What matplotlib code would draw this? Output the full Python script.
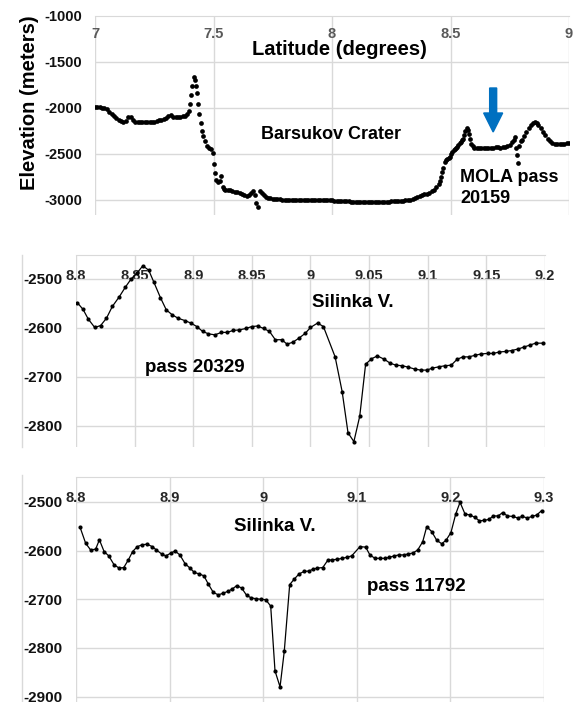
import numpy as np
import matplotlib.pyplot as plt
from matplotlib.patches import FancyArrow
from matplotlib.lines import Line2D
from matplotlib.transforms import IdentityTransform

# --- Daten: MOLA pass 20159 (Barsukov Crater) ---
top_lat = [
    7.00, 7.01, 7.02, 7.03, 7.04, 7.05, 7.06, 7.07, 7.08, 7.09,
    7.10, 7.11, 7.12, 7.13, 7.14, 7.15, 7.16, 7.17, 7.18, 7.19,
    7.20, 7.21, 7.22, 7.23, 7.24, 7.25, 7.26, 7.27, 7.28, 7.29,
    7.30, 7.31, 7.32, 7.33, 7.34, 7.35, 7.36, 7.37, 7.38, 7.39,
    7.396, 7.401, 7.405, 7.411, 7.419, 7.424, 7.427, 7.430, 7.434, 7.440,
    7.446, 7.451, 7.457, 7.464, 7.471, 7.480, 7.491, 7.498, 7.502, 7.507,
    7.512, 7.520, 7.526, 7.533, 7.540, 7.546,
    7.55, 7.56, 7.57, 7.58, 7.59, 7.60, 7.61, 7.62, 7.63, 7.64,
    7.65, 7.66, 7.667, 7.674, 7.681, 7.688, 7.698, 7.706, 7.714, 7.72,
    7.73, 7.74, 7.75, 7.76, 7.77, 7.78,
    7.79, 7.80, 7.81, 7.82, 7.83, 7.84, 7.85, 7.86, 7.87, 7.88,
    7.89, 7.90, 7.91, 7.92, 7.93, 7.94, 7.95, 7.96, 7.97, 7.98,
    7.99, 8.00, 8.01, 8.02, 8.03, 8.04, 8.05, 8.06, 8.07, 8.08,
    8.09, 8.10, 8.11, 8.12, 8.13, 8.14, 8.15, 8.16, 8.17, 8.18,
    8.19, 8.20, 8.21, 8.22, 8.23, 8.24, 8.25, 8.26, 8.27, 8.28,
    8.29, 8.30, 8.31, 8.32, 8.33,
    8.34, 8.35, 8.36, 8.37, 8.38, 8.39, 8.40, 8.41, 8.42, 8.43,
    8.44, 8.45, 8.455, 8.46, 8.465, 8.47, 8.476, 8.481, 8.487, 8.493,
    8.498, 8.503, 8.508, 8.513, 8.518, 8.523, 8.528, 8.533, 8.538, 8.543,
    8.548, 8.553, 8.558, 8.563, 8.568, 8.573, 8.578, 8.583, 8.588, 8.593,
    8.60, 8.61, 8.62, 8.63, 8.64, 8.65, 8.66, 8.67, 8.68, 8.69,
    8.70, 8.71, 8.72, 8.73, 8.74, 8.75, 8.76,
    8.767, 8.773, 8.778, 8.782, 8.786, 8.791, 8.796, 8.80, 8.81, 8.82,
    8.83, 8.84, 8.85, 8.857, 8.864, 8.87, 8.88, 8.89, 8.90, 8.91,
    8.92, 8.93, 8.94, 8.95, 8.96, 8.97, 8.98, 8.99, 9.00,
]
top_elev = [
    -1990, -1992, -1995, -2000, -2000, -2010, -2045, -2070, -2095, -2112,
    -2130, -2145, -2150, -2140, -2100, -2097, -2130, -2150, -2155, -2160,
    -2160, -2158, -2158, -2155, -2155, -2150, -2145, -2135, -2130, -2122,
    -2115, -2090, -2080, -2100, -2105, -2100, -2100, -2095, -2085, -2070,
    -2040, -1963, -1862, -1764, -1663, -1700, -1760, -1843, -1963, -2071,
    -2169, -2249, -2306, -2357, -2415, -2440, -2450, -2494, -2613, -2711,
    -2783, -2802, -2790, -2745, -2860, -2880,
    -2888, -2892, -2895, -2902, -2910, -2912, -2922, -2932, -2942, -2958,
    -2950, -2920, -2900, -2950, -3036, -3073, -2900, -2920, -2950, -2965,
    -2975, -2982, -2988, -2990, -2992, -2992,
    -2995, -2995, -2998, -3000, -3000, -3002, -3000, -2998, -2998, -3000,
    -3000, -3002, -3000, -3000, -2998, -2995, -2995, -2998, -3000, -3002,
    -3005, -3005, -3008, -3010, -3010, -3012, -3015, -3015, -3015, -3018,
    -3018, -3018, -3018, -3020, -3020, -3018, -3018, -3018, -3020, -3020,
    -3018, -3018, -3018, -3020, -3018, -3018, -3015, -3015, -3012, -3012,
    -3010, -3008, -3005, -3000, -2997,
    -2990, -2982, -2972, -2962, -2950, -2940, -2930, -2920, -2905, -2888,
    -2862, -2825, -2795, -2755, -2700, -2650, -2590, -2566, -2555, -2545,
    -2531, -2505, -2480, -2460, -2448, -2435, -2422, -2405, -2385, -2370,
    -2355, -2335, -2300, -2255, -2225, -2240, -2285, -2340, -2390, -2420,
    -2435, -2440, -2442, -2440, -2440, -2438, -2435, -2435, -2432, -2430,
    -2430, -2432, -2430, -2425, -2418, -2405, -2375,
    -2345, -2318, -2440, -2510, -2600, -2410, -2365, -2345, -2305, -2262,
    -2218, -2190, -2168, -2150, -2165, -2185, -2222, -2262, -2300, -2335,
    -2362, -2378, -2388, -2394, -2397, -2397, -2392, -2386, -2380,
]

# --- pass 20329 ---
mid_lat = [
    8.801, 8.806, 8.8105, 8.816, 8.821, 8.826, 8.831, 8.837, 8.842, 8.847,
    8.852, 8.857, 8.862, 8.8665, 8.872, 8.877, 8.882, 8.887, 8.893, 8.898,
    8.903, 8.908, 8.913, 8.9185, 8.924, 8.929, 8.934, 8.939, 8.945, 8.950,
    8.955, 8.960, 8.965, 8.970, 8.9755, 8.980, 8.985, 8.990, 8.9955, 9.000,
    9.006, 9.011, 9.021, 9.027, 9.032, 9.037, 9.042, 9.047, 9.052, 9.057,
    9.063, 9.068, 9.073, 9.078, 9.0835, 9.089, 9.094, 9.099, 9.104, 9.110,
    9.115, 9.120, 9.125, 9.130, 9.135, 9.140, 9.1455, 9.151, 9.156, 9.161,
    9.1665, 9.1715, 9.177, 9.182, 9.187, 9.192, 9.1985,
]
mid_elev = [
    -2548, -2562, -2582, -2599, -2595, -2580, -2556, -2536, -2517, -2500,
    -2488, -2473, -2482, -2507, -2538, -2563, -2573, -2580, -2585, -2590,
    -2597, -2607, -2612, -2614, -2609, -2609, -2605, -2604, -2601, -2597,
    -2596, -2601, -2607, -2624, -2624, -2633, -2629, -2621, -2611, -2599,
    -2590, -2597, -2659, -2730, -2814, -2832, -2780, -2674, -2663, -2657,
    -2664, -2672, -2676, -2677, -2680, -2684, -2686, -2686, -2682, -2679,
    -2677, -2676, -2664, -2659, -2659, -2656, -2653, -2652, -2652, -2649,
    -2648, -2646, -2643, -2639, -2635, -2631, -2631,
]

# --- pass 11792 ---
bot_lat = [
    8.8043, 8.8103, 8.8157, 8.821, 8.825, 8.830, 8.835, 8.8406, 8.846, 8.851,
    8.856, 8.8605, 8.8655, 8.8708, 8.876, 8.8815, 8.886, 8.8915, 8.896, 8.9015,
    8.9058, 8.911, 8.9165, 8.9218, 8.9264, 8.9317, 8.9367, 8.9414, 8.9467, 8.952,
    8.9567, 8.962, 8.967, 8.9717, 8.977, 8.9823, 8.987, 8.9923, 8.9973, 9.0027,
    9.008, 9.0126, 9.018, 9.0225, 9.0283, 9.033, 9.0383, 9.0436, 9.049, 9.0535,
    9.058, 9.0636, 9.069, 9.074, 9.079, 9.0845, 9.089, 9.0945, 9.1034, 9.1095,
    9.114, 9.1194, 9.1248, 9.130, 9.1347, 9.140, 9.145, 9.1504, 9.155, 9.160,
    9.165, 9.1704, 9.1747, 9.180, 9.1854, 9.1907, 9.1953, 9.2006, 9.2057, 9.2103,
    9.2156, 9.221, 9.2263, 9.231, 9.2362, 9.2412, 9.2458, 9.251, 9.2558, 9.261,
    9.2665, 9.2718, 9.2768, 9.282, 9.2875, 9.2922, 9.2975,
]
bot_elev = [
    -2552, -2585, -2599, -2597, -2578, -2602, -2611, -2629, -2636, -2635,
    -2619, -2602, -2592, -2588, -2587, -2592, -2599, -2607, -2611, -2605,
    -2601, -2609, -2627, -2636, -2645, -2648, -2652, -2669, -2686, -2691,
    -2688, -2684, -2679, -2672, -2677, -2692, -2697, -2699, -2700, -2701,
    -2714, -2847, -2880, -2807, -2670, -2659, -2648, -2643, -2642, -2638,
    -2636, -2635, -2620, -2619, -2618, -2616, -2614, -2611, -2592, -2593,
    -2609, -2616, -2616, -2616, -2614, -2611, -2609, -2609, -2607, -2605,
    -2599, -2582, -2551, -2561, -2579, -2586, -2579, -2563, -2525, -2501,
    -2525, -2527, -2532, -2539, -2538, -2536, -2529, -2529, -2522, -2529,
    -2530, -2533, -2530, -2533, -2530, -2527, -2518,
]

top_xticks = [7, 7.5, 8, 8.5, 9]
top_yticks = [-3000, -2500, -2000, -1500, -1000]
mid_xticks = [8.8, 8.85, 8.9, 8.95, 9, 9.05, 9.1, 9.15, 9.2]
mid_yticks = [-2800, -2700, -2600, -2500]
bot_xticks = [8.8, 8.9, 9, 9.1, 9.2, 9.3]
bot_yticks = [-2900, -2800, -2700, -2600, -2500]

plt.rcParams['font.family'] = ['Liberation Sans', 'DejaVu Sans']
plt.rcParams['font.weight'] = 'bold'
plt.rcParams['axes.unicode_minus'] = False

W, H = 573, 702
fig = plt.figure(figsize=(W / 100, H / 100), dpi=100)
grid_c = '#d9d9d9'


def box(l, t, r, b):
    return [l / W, 1 - b / H, (r - l) / W, (b - t) / H]


def setup(ax, xt, yt, xlim, ylim, xcol, xpad, yfs):
    ax.set_xlim(*xlim)
    ax.set_ylim(*ylim)
    ax.set_xticks(xt)
    ax.set_yticks(yt)
    ax.set_xticklabels([f"{v:g}" for v in xt])
    ax.set_yticklabels([f"{v:g}" for v in yt])
    ax.xaxis.tick_top()
    ax.tick_params(axis='x', length=0, pad=xpad, labelsize=10.5, labelcolor=xcol)
    ax.tick_params(axis='y', length=0, pad=9.5, labelsize=yfs, labelcolor='#111111')
    ax.grid(True, color=grid_c, lw=1)
    ax.set_axisbelow(True)
    for s in ['bottom', 'left', 'right']:
        ax.spines[s].set_visible(False)
    ax.spines['top'].set_color(grid_c)


# oben
ax1 = fig.add_axes(box(95, 15.5, 569, 215))
setup(ax1, top_xticks, top_yticks, (7, 9), (-3163, -1000), '#595959', -18.5, 10.5)
ax1.plot(top_lat, top_elev, 'o', color='black', ms=3.4, mew=0)
ax1.text(8.03, -1370, "Latitude (degrees)", ha='center', va='center', fontsize=14.5)
ax1.text(7.996, -2295, "Barsukov Crater", ha='center', va='center', fontsize=13)
ax1.text(8.54, -2870, "MOLA pass\n20159", ha='left', va='center', fontsize=13,
         linespacing=1.3)
fig.text(30 / W, 1 - 103 / H, "Elevation (meters)", rotation=90,
         ha='center', va='center', fontsize=14.5)

# mitte
ax2 = fig.add_axes(box(76, 255, 545, 447))
setup(ax2, mid_xticks, mid_yticks, (8.8, 9.2), (-2843, -2451), '#262626', -20, 11)
ax2.plot(mid_lat, mid_elev, '-o', color='black', lw=0.9, ms=3, mew=0)
ax2.text(9.0013, -2547, "Silinka V.", ha='left', va='center', fontsize=13.5)
ax2.text(8.8589, -2680, "pass 20329", ha='left', va='center', fontsize=13.5)

# unten
ax3 = fig.add_axes(box(76, 477, 544, 702))
setup(ax3, bot_xticks, bot_yticks, (8.8, 9.3), (-2911, -2449), '#262626', -20.5, 11)
ax3.plot(bot_lat, bot_elev, '-o', color='black', lw=0.9, ms=3, mew=0)
ax3.text(8.9688, -2551, "Silinka V.", ha='left', va='center', fontsize=13.5)
ax3.text(9.1109, -2674, "pass 11792", ha='left', va='center', fontsize=13.5)

# Rahmenlinien links
fig.add_artist(Line2D([22 / W, 22 / W], [1 - 447 / H, 1 - 255 / H], color=grid_c, lw=1))
fig.add_artist(Line2D([22 / W, 22 / W], [0, 1 - 475 / H], color=grid_c, lw=1))

# blauer Pfeil
p0 = ax1.transData.transform((8.68, -1786))
p1 = ax1.transData.transform((8.68, -2263))
fig.add_artist(FancyArrow(p0[0], p0[1], 0, p1[1] - p0[1], width=7, head_width=19,
                          head_length=19, length_includes_head=True,
                          color='#0070c0', transform=IdentityTransform()))

fig.savefig("out.png", dpi=100)
